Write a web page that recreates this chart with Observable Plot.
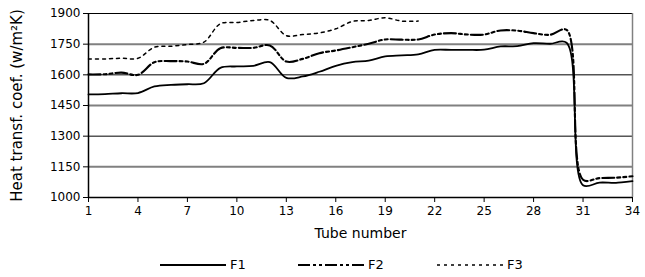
<!DOCTYPE html>
<html><head><meta charset="utf-8">
<script src="https://cdn.jsdelivr.net/npm/d3@7"></script>
<script src="https://cdn.jsdelivr.net/npm/@observablehq/plot@0.6"></script>
<style>
body{margin:0;background:#fff;font-family:"DejaVu Sans",sans-serif;}
#wrap{position:relative;width:645px;height:277px;}
.leg{position:absolute;top:257px;font-size:13px;color:#000;display:flex;align-items:center;}
.leg svg{margin-right:4px;}
</style></head><body>
<div id="wrap"><div id="chart"></div></div>
<script>
const tubes = d3.range(1, 35);
const F1 = [1504,1506,1510,1511,1543,1551,1554,1559,1634,1641,1644,1662,1585,1592,1615,1644,1662,1670,1690,1695,1700,1722,1722,1722,1723,1739,1740,1755,1752,1757,1060,1073,1072,1080];
const F2 = [1602,1603,1611,1600,1662,1667,1665,1654,1730,1732,1732,1744,1665,1678,1706,1719,1735,1752,1773,1772,1773,1797,1804,1797,1797,1817,1816,1804,1796,1820,1087,1095,1097,1104];
const F3 = [1678,1678,1681,1681,1735,1740,1748,1760,1850,1856,1866,1866,1792,1797,1805,1825,1861,1866,1879,1863,1863];
const yTicks = [1000,1150,1300,1450,1600,1750,1900];
const xTicks = [1,4,7,10,13,16,19,22,25,28,31,34];
const seriesNames = ["F1","F2","F3"];

const rows = [];
[F1,F2,F3].forEach((arr,i)=>arr.forEach((v,j)=>rows.push({tube:tubes[j], value:v, series:seriesNames[i]})));

const styles = {
  F1:{strokeWidth:1.8, dash:null},
  F2:{strokeWidth:2.1, dash:"12,3,3,3,3,3"},
  F3:{strokeWidth:1.5, dash:"3,4"}
};

const grayGrid = [1150,1450,1750];
const blackGrid = [1300,1600,1900];

const chart = Plot.plot({
  width:645, height:248,
  marginLeft:88, marginRight:13, marginTop:13, marginBottom:51,
  style:{fontFamily:"DejaVu Sans, sans-serif", fontSize:"12px", color:"#000", background:"#fff"},
  x:{domain:[1,34]},
  y:{domain:[1000,1900]},
  marks:[
    Plot.ruleY(grayGrid,{stroke:"#808080", strokeWidth:2}),
    Plot.ruleY(blackGrid,{stroke:"#000", strokeWidth:1}),
    Plot.ruleX([34],{stroke:"#808080", strokeWidth:1.5}),
    ...seriesNames.map(s=>Plot.line(rows.filter(r=>r.series===s),{x:"tube", y:"value", stroke:"#000", strokeWidth:styles[s].strokeWidth, strokeDasharray:styles[s].dash, curve:"catmull-rom"})),
    Plot.axisX({ticks:xTicks, tickFormat:d=>String(d), tickSize:5, tickPadding:4, fontSize:12, label:"Tube number", labelAnchor:"center", labelArrow:"none", labelOffset:40}),
    Plot.axisY({ticks:yTicks, tickFormat:d=>String(d), tickSize:5, tickPadding:3, fontSize:12, label:"Heat transf. coef. (w/m²K)", labelAnchor:"center", labelArrow:"none", labelOffset:77}),
    Plot.ruleX([1],{stroke:"#000", strokeWidth:1.5}),
    Plot.ruleY([1000],{stroke:"#000", strokeWidth:1.5})
  ]
});
document.getElementById("chart").appendChild(chart);
chart.querySelectorAll('[aria-label="x-axis label"] text').forEach(t=>t.setAttribute("font-size","14"));
chart.querySelectorAll('[aria-label="y-axis label"] text').forEach(t=>t.setAttribute("font-size","15"));

const wrap = document.getElementById("wrap");
const legPos = {F1:160, F2:298, F3:437};
seriesNames.forEach(s=>{
  const d = document.createElement("div");
  d.className="leg"; d.style.left = legPos[s]+"px";
  const st = styles[s];
  d.innerHTML = `<svg width="66" height="6"><line x1="0" x2="66" y1="3" y2="3" stroke="#000" stroke-width="${st.strokeWidth}" ${st.dash?`stroke-dasharray="${st.dash}"`:""}/></svg><span>${s}</span>`;
  wrap.appendChild(d);
});
</script>
</body></html>
